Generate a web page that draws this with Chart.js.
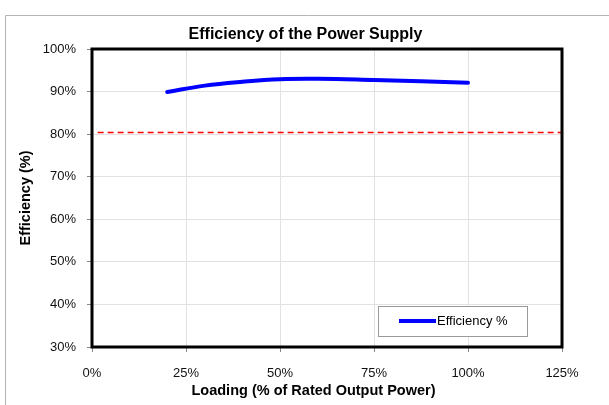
<!DOCTYPE html>
<html>
<head>
<meta charset="utf-8">
<script src="https://cdn.jsdelivr.net/npm/chart.js@4.4.0/dist/chart.umd.min.js"></script>
<style>
    body { margin: 0; background: #fff; }
</style>
</head>
<body>
<canvas id="effChart" width="609" height="405"></canvas>
<script>
const loadPct = [20, 30, 40, 50, 60, 75, 100];
const efficiency = [89.9, 91.4, 92.3, 92.9, 93.0, 92.7, 92.1];

// 80% limit line
const limitX = [1.5, 125];
const limitY = [80.4, 80.4];

const xTicks = [0, 25, 50, 75, 100, 125];
const yTicks = [30, 40, 50, 60, 70, 80, 90, 100];

const chartTitle = 'Efficiency of the Power Supply';
const xTitle = 'Loading (% of Rated Output Power)';
const yTitle = 'Efficiency (%)';

const FONT = '"Liberation Sans", Arial, sans-serif';

const toPoints = (xs, ys) => xs.map((x, i) => ({ x: x, y: ys[i] }));

// frame, outer border, titles and the legend box
const decorPlugin = {
    id: 'decor',
    beforeDraw(chart) {
        const ctx = chart.ctx;
        ctx.save();
        ctx.strokeStyle = '#b4b4b4';
        ctx.lineWidth = 1;
        ctx.beginPath();
        ctx.moveTo(5.5, 405);
        ctx.lineTo(5.5, 15.5);
        ctx.lineTo(609, 15.5);
        ctx.stroke();
        ctx.restore();
    },
    afterDatasetsDraw(chart) {
        const { ctx, chartArea } = chart;
        ctx.save();
        ctx.strokeStyle = '#000';
        ctx.lineWidth = 3;
        ctx.strokeRect(chartArea.left, chartArea.top, chartArea.right - chartArea.left, chartArea.bottom - chartArea.top);
        ctx.restore();
    },
    afterDraw(chart) {
        const ctx = chart.ctx;
        ctx.save();
        ctx.fillStyle = '#000';
        ctx.textAlign = 'center';
        ctx.textBaseline = 'middle';
        ctx.font = 'bold 16px ' + FONT;
        ctx.fillText(chartTitle, 305.5, 35);
        ctx.font = 'bold 14.5px ' + FONT;
        ctx.fillText(xTitle, 313.5, 390.5);

        // legend
        ctx.fillStyle = '#fff';
        ctx.fillRect(378, 306, 149, 30);
        ctx.strokeStyle = '#999';
        ctx.lineWidth = 1;
        ctx.strokeRect(378.5, 306.5, 149, 30);
        ctx.strokeStyle = '#0000ff';
        ctx.lineWidth = 4;
        ctx.beginPath();
        ctx.moveTo(399, 321);
        ctx.lineTo(436, 321);
        ctx.stroke();
        ctx.fillStyle = '#000';
        ctx.font = '13px ' + FONT;
        ctx.textAlign = 'left';
        ctx.fillText(chart.data.datasets[0].label, 437, 321);
        ctx.restore();
    }
};

new Chart(document.getElementById('effChart'), {
    type: 'scatter',
    data: {
        datasets: [
            {
                label: 'Efficiency %',
                data: toPoints(loadPct, efficiency),
                showLine: true,
                borderColor: '#0000ff',
                borderWidth: 4,
                pointRadius: 0,
                tension: 0.4,
                borderCapStyle: 'round'
            },
            {
                label: 'Limit',
                data: toPoints(limitX, limitY),
                showLine: true,
                borderColor: '#ff0000',
                borderWidth: 1.5,
                borderDash: [6, 4],
                pointRadius: 0
            }
        ]
    },
    options: {
        responsive: false,
        animation: false,
        layout: { padding: { left: 0, right: 47, top: 49, bottom: 0 } },
        plugins: {
            legend: { display: false },
            tooltip: { enabled: false },
            title: { display: false }
        },
        scales: {
            x: {
                type: 'linear',
                min: 0,
                max: 125,
                afterFit: (scale) => { scale.height = 58; },
                afterBuildTicks: (scale) => { scale.ticks = xTicks.map((v) => ({ value: v })); },
                ticks: {
                    callback: (v) => v + '%',
                    color: '#111',
                    font: { family: FONT, size: 13 },
                    padding: 14,
                    maxRotation: 0
                },
                grid: { color: '#e2e2e2', tickColor: '#888', tickLength: 5 },
                border: { display: false }
            },
            y: {
                type: 'linear',
                min: 30,
                max: 100,
                afterFit: (scale) => { scale.width = 92; },
                afterBuildTicks: (scale) => { scale.ticks = yTicks.map((v) => ({ value: v })); },
                ticks: {
                    callback: (v) => v + '%',
                    color: '#111',
                    font: { family: FONT, size: 13 },
                    padding: 11
                },
                grid: { color: '#e2e2e2', tickColor: '#888', tickLength: 5 },
                border: { display: false },
                title: {
                    display: true,
                    text: yTitle,
                    color: '#000',
                    font: { family: FONT, size: 14.5, weight: 'bold' },
                    padding: { top: 17.3, bottom: 0 }
                }
            }
        }
    },
    plugins: [decorPlugin]
});
</script>
</body>
</html>
